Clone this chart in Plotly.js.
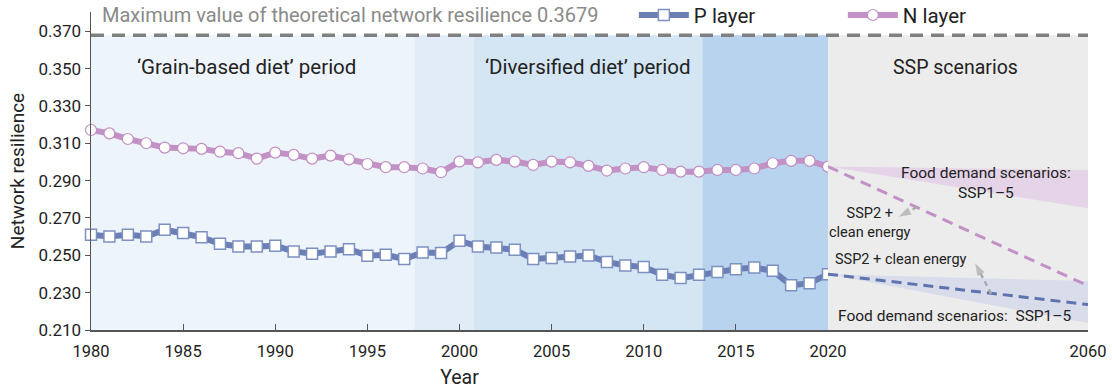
<!DOCTYPE html>
<html><head><meta charset="utf-8">
<script src="https://cdn.plot.ly/plotly-3.0.1.min.js"></script>
<style>html,body{margin:0;padding:0;background:#fff}#chart{width:1112px;height:391px}</style>
</head><body><div id="chart"></div>
<script>
const years = [1980,1981,1982,1983,1984,1985,1986,1987,1988,1989,
  1990,1991,1992,1993,1994,1995,1996,1997,1998,1999,
  2000,2001,2002,2003,2004,2005,2006,2007,2008,2009,
  2010,2011,2012,2013,2014,2015,2016,2017,2018,2019,2020];
const pLayer = [0.2610,0.2601,0.2610,0.2601,0.2637,0.2619,0.2597,0.2562,0.2547,0.2547,
  0.2551,0.2521,0.2508,0.2521,0.2533,0.2498,0.2503,0.2480,0.2515,0.2512,
  0.2578,0.2547,0.2542,0.2530,0.2480,0.2485,0.2494,0.2499,0.2464,0.2446,
  0.2437,0.2396,0.2378,0.2396,0.2410,0.2426,0.2435,0.2417,0.2339,0.2351,0.2399];
const nLayer = [0.3171,0.3153,0.3123,0.3100,0.3077,0.3073,0.3070,0.3055,0.3047,0.3018,
  0.3050,0.3038,0.3018,0.3034,0.3014,0.2989,0.2972,0.2972,0.2965,0.2945,
  0.3002,0.2998,0.3011,0.3002,0.2984,0.3002,0.2998,0.2979,0.2954,0.2965,
  0.2972,0.2957,0.2948,0.2948,0.2957,0.2957,0.2965,0.2993,0.3006,0.3006,0.2975];
const projYears = [2020, 2060];
const pProjection = [0.2399, 0.2236];
const nProjection = [0.2975, 0.2337];
const pBandUpper = [0.2399, 0.2362];
const pBandLower = [0.2399, 0.2137];
const nBandUpper = [0.2975, 0.2957];
const nBandLower = [0.2975, 0.2752];
const maxResilience = 0.3679;
const periodBounds = [1980, 1997.55, 2000.76, 2013.18, 2020];
const periodColors = ['#eef4fc', '#e2ecf7', '#d4e5f4', '#b8d3ed'];
const yTicks = [0.210,0.230,0.250,0.270,0.290,0.310,0.330,0.350,0.370];
const xTicks = [1980,1985,1990,1995,2000,2005,2010,2015,2020];
const xTicks2 = [2060];

const FONT = 'Roboto, "Open Sans", sans-serif';
const P_COL = '#6b7fb5', N_COL = '#c291c6';

function band(upper, lower) {
  return {x: projYears.concat(projYears.slice().reverse()),
          y: upper.concat(lower.slice().reverse())};
}
const pb = band(pBandUpper, pBandLower), nb = band(nBandUpper, nBandLower);

// dashed pointer arrows (annotation graphics): tail -> head
function pointer(x, y) {
  return {x: x, y: y, xaxis: 'x2', yaxis: 'y', type: 'scatter', mode: 'lines+markers',
    line: {color: '#aaaaaa', width: 2.5, dash: '5px,4px'},
    marker: {symbol: ['circle', 'arrow'], size: [0, 13], color: '#aaaaaa', angleref: 'previous',
      line: {width: 0}},
    showlegend: false, hoverinfo: 'skip', cliponaxis: false};
}

const traces = [
  {x: nb.x, y: nb.y, xaxis: 'x2', yaxis: 'y', type: 'scatter', mode: 'lines', fill: 'toself',
   fillcolor: '#e5d4e8', line: {width: 0}, showlegend: false, hoverinfo: 'skip'},
  {x: pb.x, y: pb.y, xaxis: 'x2', yaxis: 'y', type: 'scatter', mode: 'lines', fill: 'toself',
   fillcolor: '#d8dceb', line: {width: 0}, showlegend: false, hoverinfo: 'skip'},
  {x: projYears, y: nProjection, xaxis: 'x2', type: 'scatter', mode: 'lines',
   line: {color: N_COL, width: 3, dash: '11px,7px'}, showlegend: false},
  {x: projYears, y: pProjection, xaxis: 'x2', type: 'scatter', mode: 'lines',
   line: {color: '#5f73ae', width: 3, dash: '10px,6px'}, showlegend: false},
  pointer([2033.7, 2030.9], [0.2759, 0.2707]),
  pointer([2045.1, 2042.65], [0.2294, 0.2458]),
  {x: years, y: pLayer, name: 'P layer', type: 'scatter', mode: 'lines+markers', cliponaxis: false,
   line: {color: P_COL, width: 6},
   marker: {symbol: 'square', size: 11, color: '#ffffff', line: {color: '#7d90c2', width: 1.5}}},
  {x: years, y: nLayer, name: 'N layer', type: 'scatter', mode: 'lines+markers', cliponaxis: false,
   line: {color: N_COL, width: 6},
   marker: {symbol: 'circle', size: 11, color: '#ffffff', line: {color: '#c08dc4', width: 1.2}}}
];

const shapes = [];
for (let i = 0; i < periodColors.length; i++) {
  shapes.push({type: 'rect', xref: 'x', yref: 'y', x0: periodBounds[i], x1: periodBounds[i+1],
    y0: 0.21, y1: maxResilience, fillcolor: periodColors[i], line: {width: 0}, layer: 'below'});
}
shapes.push({type: 'rect', xref: 'x2', yref: 'y', x0: 2020, x1: 2060, y0: 0.21, y1: maxResilience,
  fillcolor: '#ececec', line: {width: 0}, layer: 'below'});
shapes.push({type: 'line', xref: 'paper', yref: 'y', x0: 0, x1: 1, y0: maxResilience, y1: maxResilience,
  line: {color: '#808080', width: 3.5, dash: '13px,8px'}, layer: 'above'});

const txt = (s, c) => ({size: s, color: c || '#222222', family: FONT});
const annotations = [
  {xref: 'paper', yref: 'y', x: 0.009, y: 0.3786, xanchor: 'left', yanchor: 'middle', showarrow: false,
   text: 'Maximum value of theoretical network resilience 0.3679', font: txt(20, '#8a8a8a')},
  {xref: 'x', yref: 'y', x: 1988.46, y: 0.3508, showarrow: false,
   text: '\u2018Grain-based diet\u2019 period', font: txt(20.5)},
  {xref: 'x', yref: 'y', x: 2006.94, y: 0.3508, showarrow: false,
   text: '\u2018Diversified diet\u2019 period', font: txt(20.5)},
  {xref: 'x2', yref: 'y', x: 2039.6, y: 0.3508, showarrow: false,
   text: 'SSP scenarios', font: txt(19.5)},
  {xref: 'x2', yref: 'y', x: 2044.3, y: 0.2888, showarrow: false,
   text: 'Food demand scenarios:<br>SSP1\u20135', font: txt(15.5)},
  {xref: 'x2', yref: 'y', x: 2039.5, y: 0.2176, showarrow: false,
   text: 'Food demand scenarios:\u00a0 SSP1\u20135', font: txt(15.5)},
  {xref: 'x2', yref: 'y', x: 2026.5, y: 0.2675, showarrow: false,
   text: 'SSP2 +<br>clean energy', font: txt(14.5)},
  {xref: 'x2', yref: 'y', x: 2031.3, y: 0.2478, showarrow: false,
   text: 'SSP2 + clean energy', font: txt(14.5)}
];

const axisCommon = {showgrid: false, zeroline: false, showline: true, linecolor: '#555555', linewidth: 1.5,
  tickcolor: '#555555', fixedrange: true};

const layout = {
  width: 1112, height: 391,
  margin: {l: 91, r: 24, t: 12, b: 60.5, autoexpand: false},
  paper_bgcolor: '#ffffff', plot_bgcolor: '#ffffff',
  font: {family: FONT, color: '#222222'},
  showlegend: true,
  legend: {orientation: 'h', x: 0.5445, xanchor: 'left', y: 0.99, yanchor: 'middle',
    font: txt(20.5), bgcolor: 'rgba(0,0,0,0)', itemwidth: 50, entrywidth: 144, tracegroupgap: 0},
  xaxis: Object.assign({}, axisCommon, {domain: [0, 0.7392], range: [1980, 2020], tickmode: 'array',
    tickvals: xTicks, ticktext: xTicks.map(String), ticks: 'inside', ticklen: 6, ticklabelstandoff: 6,
    tickfont: txt(16.5), title: {text: 'Year', font: txt(19.5), standoff: 10}}),
  xaxis2: Object.assign({}, axisCommon, {domain: [0.7392, 1], range: [2020, 2060], anchor: 'y',
    tickmode: 'array', tickvals: xTicks2, ticktext: xTicks2.map(String), ticks: '', ticklen: 0,
    ticklabelstandoff: 6, tickfont: txt(16.5)}),
  yaxis: Object.assign({}, axisCommon, {range: [0.21, 0.3803], tickmode: 'array', tickvals: yTicks,
    ticktext: yTicks.map(v => v.toFixed(3)), ticks: 'outside', ticklen: 5, anchor: 'x',
    tickfont: txt(17), title: {text: 'Network resilience', font: txt(19), standoff: 8}}),
  shapes: shapes,
  annotations: annotations
};

Plotly.newPlot('chart', traces, layout, {staticPlot: true, displayModeBar: false});
</script>
</body></html>
